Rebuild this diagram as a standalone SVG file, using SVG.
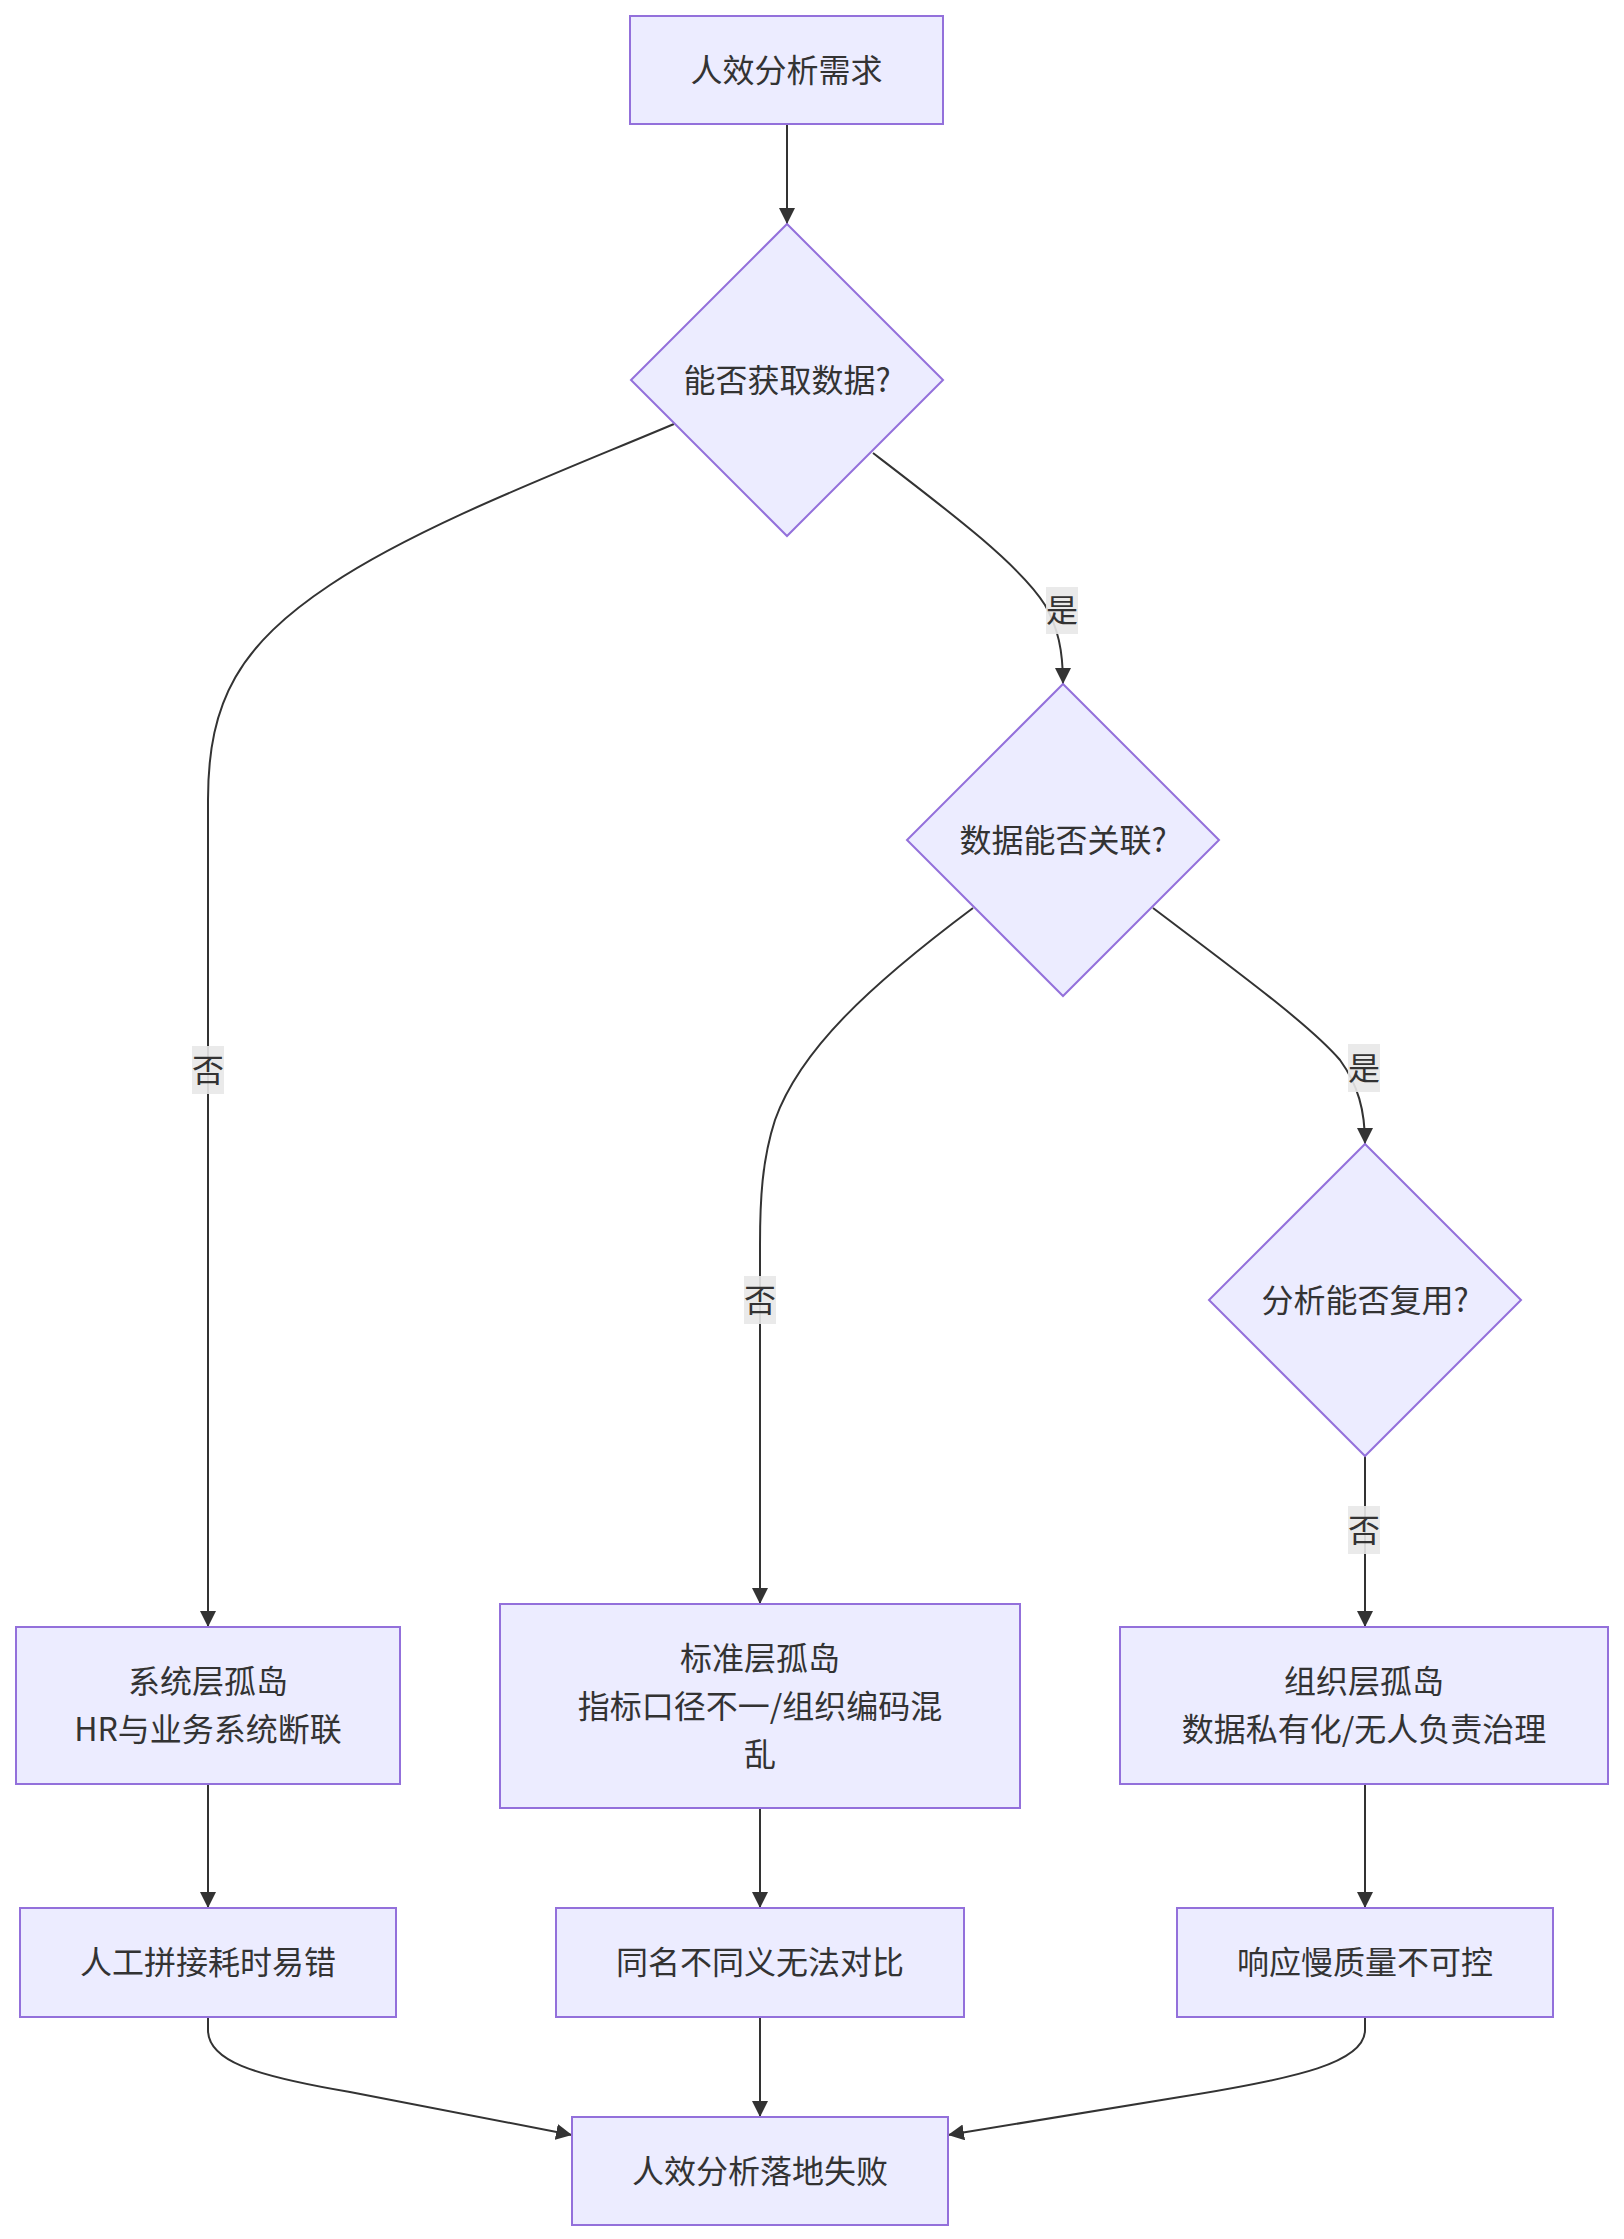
<svg xmlns="http://www.w3.org/2000/svg" width="1624" height="2239" viewBox="0 0 1624 2239">
<style>
.node rect,.node polygon{fill:#ECECFF;stroke:#9370DB;stroke-width:2}
.node text,.elabel text{font-family:"Noto Sans CJK SC","Noto Sans",sans-serif;font-size:32px;fill:#333;text-anchor:middle;dominant-baseline:central}
.edges path{fill:none;stroke:#333;stroke-width:2}
.elabel rect{fill:#e8e8e8;opacity:0.9}
</style>
<defs>
<marker id="arr" viewBox="0 0 10 10" refX="10" refY="5" markerUnits="userSpaceOnUse" markerWidth="16" markerHeight="16" orient="auto">
<path d="M0,0 L10,5 L0,10 z" fill="#333"/>
</marker>
</defs>
<rect width="1624" height="2239" fill="#fff"/>
<g class="edges">
<path d="M787,124 V224" marker-end="url(#arr)"/>
<path d="M674,424 C560,472 420,525 330,585 C240,645 208,700 208,800 V1627" marker-end="url(#arr)"/>
<path d="M873,453 C950,512 1020,565 1045,605 C1058,628 1063,650 1063,684" marker-end="url(#arr)"/>
<path d="M973,908 C870,985 800,1050 775,1120 C762,1160 760,1200 760,1245 V1604" marker-end="url(#arr)"/>
<path d="M1153,908 C1235,970 1310,1025 1340,1060 C1358,1085 1365,1110 1365,1144" marker-end="url(#arr)"/>
<path d="M1365,1456 V1627" marker-end="url(#arr)"/>
<path d="M208,1784 V1908" marker-end="url(#arr)"/>
<path d="M760,1808 V1908" marker-end="url(#arr)"/>
<path d="M1365,1784 V1908" marker-end="url(#arr)"/>
<path d="M208,2017 V2030 C208,2060 250,2075 350,2092 L572,2135" marker-end="url(#arr)"/>
<path d="M760,2017 V2117" marker-end="url(#arr)"/>
<path d="M1365,2017 V2030 C1365,2062 1300,2078 1180,2097 L948,2135" marker-end="url(#arr)"/>
</g>
<g class="elabel" id="lbl-no1"><rect x="192" y="1046" width="32" height="48"/><text x="208" y="1068">否</text></g>
<g class="elabel" id="lbl-yes1"><rect x="1046" y="587" width="32" height="47"/><text x="1062" y="608">是</text></g>
<g class="elabel" id="lbl-no2"><rect x="744" y="1276" width="32" height="48"/><text x="760" y="1298">否</text></g>
<g class="elabel" id="lbl-yes2"><rect x="1348" y="1044" width="32" height="48"/><text x="1364" y="1066">是</text></g>
<g class="elabel" id="lbl-no3"><rect x="1348" y="1506" width="32" height="48"/><text x="1364" y="1528">否</text></g>
<g class="node" id="A"><rect x="630" y="16" width="313" height="108"/><text x="786.5" y="68">人效分析需求</text></g>
<g class="node" id="B"><polygon points="787,224 943,380 787,536 631,380"/><text x="787" y="378">能否获取数据?</text></g>
<g class="node" id="C"><polygon points="1063,684 1219,840 1063,996 907,840"/><text x="1063" y="838">数据能否关联?</text></g>
<g class="node" id="D"><polygon points="1365,1144 1521,1300 1365,1456 1209,1300"/><text x="1365" y="1298">分析能否复用?</text></g>
<g class="node" id="E"><rect x="16" y="1627" width="384" height="157"/><text x="208" y="1679">系统层孤岛</text><text x="208" y="1727">HR与业务系统断联</text></g>
<g class="node" id="F"><rect x="500" y="1604" width="520" height="204"/><text x="760" y="1656">标准层孤岛</text><text x="760" y="1704">指标口径不一/组织编码混</text><text x="760" y="1752">乱</text></g>
<g class="node" id="G"><rect x="1120" y="1627" width="488" height="157"/><text x="1364" y="1679">组织层孤岛</text><text x="1364" y="1727">数据私有化/无人负责治理</text></g>
<g class="node" id="H"><rect x="20" y="1908" width="376" height="109"/><text x="208" y="1960">人工拼接耗时易错</text></g>
<g class="node" id="I"><rect x="556" y="1908" width="408" height="109"/><text x="760" y="1960">同名不同义无法对比</text></g>
<g class="node" id="J"><rect x="1177" y="1908" width="376" height="109"/><text x="1365" y="1960">响应慢质量不可控</text></g>
<g class="node" id="K"><rect x="572" y="2117" width="376" height="108"/><text x="760" y="2169">人效分析落地失败</text></g>
</svg>
